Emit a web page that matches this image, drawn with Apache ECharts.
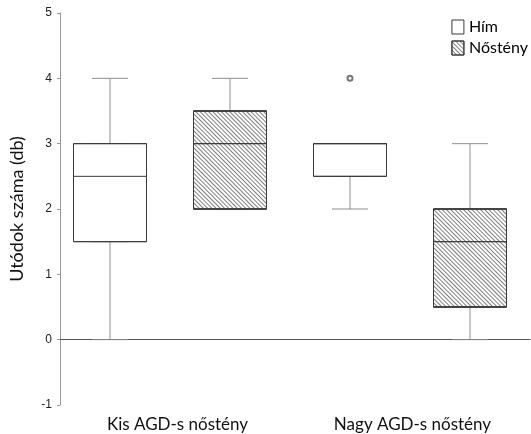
<!DOCTYPE html>
<html>
<head>
<meta charset="utf-8">
<script src="https://cdn.jsdelivr.net/npm/echarts@6/dist/echarts.min.js"></script>
<style>
  html, body { margin: 0; padding: 0; background: #fff; }
  #chart { width: 531px; height: 434px; }
</style>
</head>
<body>
<div id="chart"></div>
<script>
// Groups on the x axis
const groups = ['Kis AGD-s nőstény', 'Nagy AGD-s nőstény'];
const seriesNames = ['Hím', 'Nőstény'];

// Five-number summaries [min, Q1, median, Q3, max] per group
const himStats = [
  [0, 1.5, 2.5, 3, 4],
  [2, 2.5, 3, 3, 3]
];
const nostenyStats = [
  [2, 2, 3, 3.5, 4],
  [0, 0.5, 1.5, 2, 3]
];

// Outliers: [group index, value]
const himOutliers = [[1, 4]];

const yTicks = { min: -1, max: 5, interval: 1 };

const chart = echarts.init(document.getElementById('chart'));

// Each group is split into one slot per sex: slot = group * 2 + sex
const slots = [];
groups.forEach(g => seriesNames.forEach(s => slots.push(g + ' / ' + s)));
const toSlots = (stats, sex) => stats.map((d, g) => [g * seriesNames.length + sex].concat(d));
// Box-only summaries (whiskers collapsed onto the box) drawn over the grey whiskers
const boxOnly = (stats, sex) => toSlots(stats.map(d => [d[1], d[1], d[2], d[3], d[3]]), sex);

// Fine diagonal hatching for the Nőstény boxes
const hatch = {
  symbol: 'rect',
  symbolSize: 1,
  color: 'rgba(60,60,60,0.65)',
  dashArrayX: [1, 0],
  dashArrayY: [0.9, 1.2],
  rotation: Math.PI / 4
};

// All grids cover the same plot area; each boxplot series gets its own hidden
// slot axis so the library lays every box out centred on its slot.
const plotArea = { left: 50, right: 1, top: 13, bottom: 29 };
const grids = [0, 1, 2, 3, 4].map(() => Object.assign({}, plotArea));

const hiddenX = i => ({
  type: 'category', gridIndex: i, data: slots, show: false,
  axisLine: { show: false }, axisTick: { show: false }, axisLabel: { show: false }
});
const hiddenY = i => ({
  type: 'value', gridIndex: i, min: yTicks.min, max: yTicks.max, interval: yTicks.interval,
  show: false, splitLine: { show: false }
});

const boxSeries = (name, grid, data, width, style, z) => ({
  name: name,
  type: 'boxplot',
  xAxisIndex: grid, yAxisIndex: grid,
  data: data,
  encode: { x: 0, y: [1, 2, 3, 4, 5] },
  boxWidth: [width, width],
  z: z,
  itemStyle: style
});

const whiskerStyle = { color: '#fff', borderColor: '#8f8f8f', borderWidth: 1 };
const himBoxStyle = { color: '#fff', borderColor: '#3a3a3a', borderWidth: 1 };
const nostenyBoxStyle = { color: '#fff', borderColor: '#3a3a3a', borderWidth: 1, decal: hatch };

chart.setOption({
  animation: false,
  backgroundColor: '#fff',
  grid: grids,
  legend: {
    right: 3, top: 19, orient: 'vertical', itemGap: 5, padding: 0,
    itemWidth: 12, itemHeight: 14,
    textStyle: { fontFamily: 'Lato', fontSize: 16, color: '#000' },
    data: [
      { name: 'Hím', icon: 'rect', itemStyle: himBoxStyle },
      { name: 'Nőstény', icon: 'rect', itemStyle: nostenyBoxStyle }
    ]
  },
  xAxis: [
    {
      type: 'category',
      gridIndex: 0,
      data: groups,
      axisLine: { lineStyle: { color: '#555', width: 1 } },
      axisTick: { show: false },
      axisLabel: { fontFamily: 'Lato', fontSize: 17, color: '#111', margin: 11 },
      splitLine: { show: false }
    },
    hiddenX(1), hiddenX(2), hiddenX(3), hiddenX(4)
  ],
  yAxis: [
    {
      type: 'value',
      gridIndex: 0,
      min: yTicks.min, max: yTicks.max, interval: yTicks.interval,
      name: 'Utódok száma (db)',
      nameLocation: 'middle',
      nameGap: 34,
      nameTextStyle: { fontFamily: 'Lato', fontSize: 18, color: '#111' },
      axisLine: { show: true, lineStyle: { color: '#999', width: 1 } },
      axisTick: { show: true, length: 3, lineStyle: { color: '#999' } },
      axisLabel: { fontFamily: 'Liberation Sans', fontSize: 12, color: '#222', margin: 8 },
      splitLine: { show: false }
    },
    hiddenY(1), hiddenY(2), hiddenY(3), hiddenY(4)
  ],
  series: [
    // grey whiskers with half-width caps
    boxSeries(seriesNames[0], 1, toSlots(himStats, 0), 36, whiskerStyle, 2),
    boxSeries(seriesNames[1], 2, toSlots(nostenyStats, 1), 36, whiskerStyle, 2),
    // dark boxes with median line
    boxSeries(seriesNames[0], 3, boxOnly(himStats, 0), 73, himBoxStyle, 3),
    boxSeries(seriesNames[1], 4, boxOnly(nostenyStats, 1), 73, nostenyBoxStyle, 3),
    {
      name: 'outlier',
      type: 'scatter',
      xAxisIndex: 3, yAxisIndex: 3,
      data: himOutliers.map(o => [o[0] * seriesNames.length + 0, o[1]]),
      symbol: 'emptyCircle',
      symbolSize: 5,
      itemStyle: { color: '#555', borderColor: '#555', borderWidth: 1 },
      z: 4
    }
  ]
});
</script>
</body>
</html>
